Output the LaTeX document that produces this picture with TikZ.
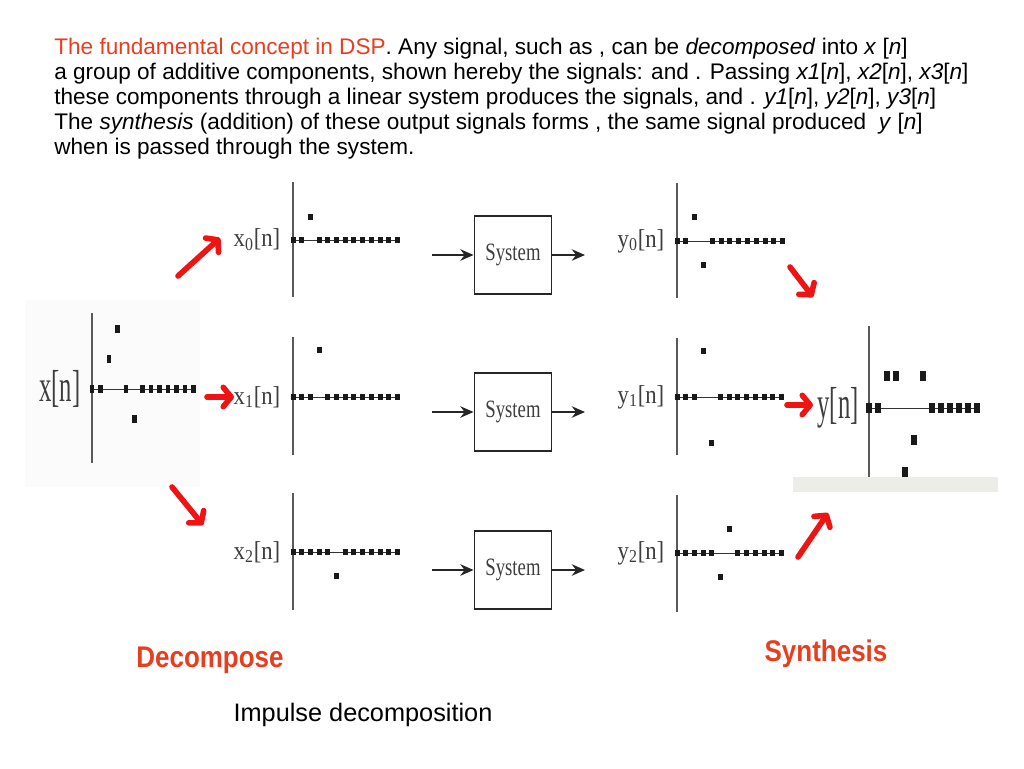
\documentclass[tikz,border=0pt]{standalone}
\usepackage{fontspec}
\setmainfont{Liberation Sans}
\newfontfamily\scanfont{Liberation Serif}
\usetikzlibrary{arrows.meta}

\definecolor{dspred}{RGB}{232,62,32}
\definecolor{penred}{RGB}{238,20,20}
\definecolor{scanink}{RGB}{62,62,62}
\definecolor{barfill}{RGB}{237,237,231}

% squeezed scan lettering
\newcommand{\squeeze}[2]{\scalebox{#1}[1]{#2}}

% one stem plot: origin, spacing, unit height, axis top, axis bottom, samples
\newcommand{\sigplot}[6]{%
  \begin{scope}[shift={#1}]
    \draw[sigaxis] (0,-#4) -- (0,#5);
    \draw[sigbase] (0,0) -- ({12*#2},0);
    \foreach \v [count=\k from 0] in {#6}
      \fill[sigdot] ({\k*#2-\dw},{-\v*#3-\dh}) rectangle ({\k*#2+\dw},{-\v*#3+\dh});
  \end{scope}}

\begin{document}
\begin{tikzpicture}[x=0.02cm,y=-0.02cm,
    toptext/.style={anchor=base west,inner sep=0pt,font=\fontsize{12.85}{15}\selectfont},
    siglabel/.style={inner sep=0pt,text=scanink,font=\scanfont\fontsize{14.7}{16}\selectfont},
    biglabel/.style={inner sep=0pt,text=scanink,font=\scanfont\fontsize{25.5}{27}\selectfont},
    sysbox/.style={draw=black!85,line width=1.1pt,minimum width=1.54cm,minimum height=1.56cm,
      inner sep=0pt,text=scanink,font=\scanfont\fontsize{14.2}{16}\selectfont},
    sysarrow/.style={draw=black!85,line width=1.2pt,-{Stealth[length=7.5pt,width=6.5pt]}},
    penarrow/.style={draw=penred,line width=3.2pt,line cap=round,
      -{Straight Barb[length=4.5pt,width=11pt,round]}},
    bigword/.style={inner sep=0pt,anchor=base,text=dspred,font=\bfseries\fontsize{17}{20}\selectfont},
    sigaxis/.style={draw=black!65,line width=0.8pt},
    sigbase/.style={draw=black!80,line width=0.5pt},
    sigdot/.style={fill=black!90}]

  % page
  \fill[white] (0,0) rectangle (1024,768);
  \useasboundingbox (0,0) rectangle (1024,768);
  \fill[black!1.5] (25,300) rectangle (200,487);
  \fill[barfill] (793,477) rectangle (998,492);

  % text block
  \node[toptext] (t1) at (54,54) {\textcolor{dspred}{The fundamental concept in DSP}. Any signal, such as , can be \textit{decomposed} into \textit{x} [\textit{n}]};
  \node[toptext] (t2) at (54,79) {a group of additive components, shown hereby the signals: and . Passing \textit{x1}[\textit{n}], \textit{x2}[\textit{n}], \textit{x3}[\textit{n}]};
  \node[toptext] (t3) at (54,104) {these components through a linear system produces the signals, and . \textit{y1}[\textit{n}], \textit{y2}[\textit{n}], \textit{y3}[\textit{n}]};
  \node[toptext] (t4) at (54,129) {The \textit{synthesis} (addition) of these output signals forms , the same signal produced \ \textit{y} [\textit{n}]};
  \node[toptext] (t5) at (54,154) {when is passed through the system.};

  % input signal x[n]
  \def\dw{2.3}\def\dh{4.2}
  \sigplot{(92,389)}{8.45}{30}{76}{74}{0,0,1,2,0,-1,0,0,0,0,0,0,0}
  \node[biglabel] (lx) at (60,389) {\squeeze{0.55}{x[n]}};

  % the three components
  \def\dw{2.5}\def\dh{3.3}
  \sigplot{(293,240)}{8.7}{23}{58}{57}{0,0,1,0,0,0,0,0,0,0,0,0,0}
  \sigplot{(293,397)}{8.7}{47}{60}{58}{0,0,0,1,0,0,0,0,0,0,0,0,0}
  \sigplot{(293,552)}{8.7}{24}{59}{58}{0,0,0,0,0,-1,0,0,0,0,0,0,0}
  \node[siglabel] (lx0) at (257,240) {\squeeze{0.88}{x\textsubscript{0}[n]}};
  \node[siglabel] (lx1) at (257,397) {\squeeze{0.88}{x\textsubscript{1}[n]}};
  \node[siglabel] (lx2) at (257,552) {\squeeze{0.88}{x\textsubscript{2}[n]}};

  % systems
  \node[sysbox] (sys0) at (513,255) {\squeeze{0.75}{System}};
  \node[sysbox] (sys1) at (513,412) {\squeeze{0.75}{System}};
  \node[sysbox] (sys2) at (513,570) {\squeeze{0.75}{System}};
  \foreach \r/\yy in {0/255,1/412,2/570} {
    \coordinate (in\r) at (432,\yy);
    \coordinate (out\r) at (585,\yy);
    \draw[sysarrow] (in\r) -- (sys\r);
    \draw[sysarrow] (sys\r) -- (out\r);
  }

  % the three responses
  \sigplot{(677,241)}{8.8}{24}{58}{57}{0,0,1,-1,0,0,0,0,0,0,0,0,0}
  \sigplot{(677,397)}{8.7}{46}{59}{58}{0,0,0,1,-1,0,0,0,0,0,0,0,0}
  \sigplot{(677,553)}{8.7}{24}{58}{59}{0,0,0,0,0,-1,1,0,0,0,0,0,0}
  \node[siglabel] (ly0) at (641,241) {\squeeze{0.88}{y\textsubscript{0}[n]}};
  \node[siglabel] (ly1) at (641,397) {\squeeze{0.88}{y\textsubscript{1}[n]}};
  \node[siglabel] (ly2) at (641,553) {\squeeze{0.88}{y\textsubscript{2}[n]}};

  % output signal y[n]
  \def\dw{3.2}\def\dh{4.8}
  \sigplot{(869,408)}{9}{32}{82}{69}{0,0,1,1,-2,-1,1,0,0,0,0,0,0}
  \node[biglabel] (ly) at (838,408) {\squeeze{0.55}{y[n]}};

  % pen arrows
  \coordinate (ra0s) at (178,276); \coordinate (ra0e) at (220,238);
  \coordinate (ra1s) at (207,397); \coordinate (ra1e) at (234,397);
  \coordinate (ra2s) at (172,487); \coordinate (ra2e) at (203,525);
  \coordinate (rb0s) at (790,267); \coordinate (rb0e) at (813,297);
  \coordinate (rb1s) at (787,405); \coordinate (rb1e) at (813,405);
  \coordinate (rb2s) at (798,557); \coordinate (rb2e) at (828,513);
  \foreach \a in {ra0,ra1,ra2,rb0,rb1,rb2}
    \draw[penarrow] (\a s) -- (\a e);

  % captions
  \node[bigword] (dec) at (210,667) {\squeeze{0.87}{Decompose}};
  \node[bigword] (syn) at (826,661) {\squeeze{0.87}{Synthesis}};
  \node[toptext,anchor=base,font=\fontsize{14.4}{17}\selectfont] (cap) at (363,721) {Impulse decomposition};
\end{tikzpicture}
\end{document}
